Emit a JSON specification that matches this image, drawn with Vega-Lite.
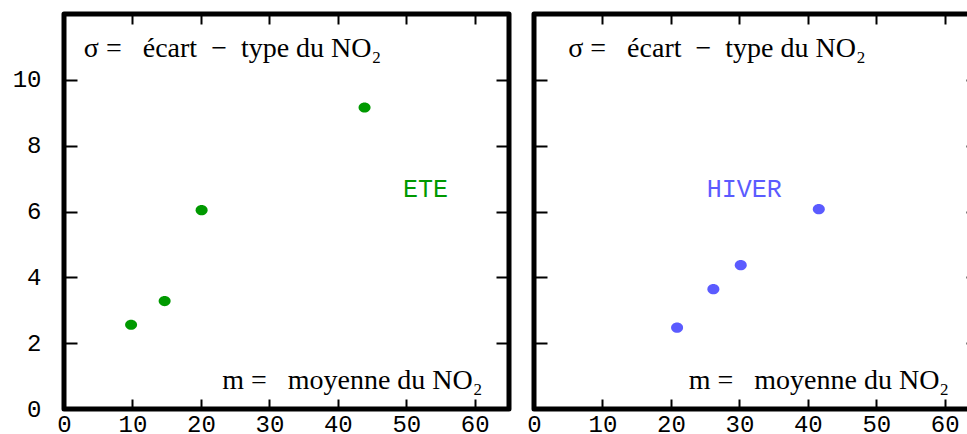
{
  "$schema": "https://vega.github.io/schema/vega-lite/v6.json",
  "autosize": {"type": "pad"},
  "padding": {"left": 9, "top": 10, "right": 0, "bottom": 0},
  "background": "white",
  "config": {
    "view": {"stroke": "black", "strokeWidth": 5, "strokeJoin": "round"},
    "axis": {
      "grid": false,
      "domain": false,
      "title": null,
      "tickColor": "black",
      "tickWidth": 2,
      "labelFont": "Liberation Mono",
      "labelFontSize": 24,
      "labelColor": "black",
      "labelFlush": false,
      "labelOverlap": false,
      "labelBound": false
    }
  },
  "datasets": {
    "mesures": [
      {"saison": "ETE", "m": 9.8, "sigma": 2.56},
      {"saison": "ETE", "m": 14.7, "sigma": 3.28},
      {"saison": "ETE", "m": 20.1, "sigma": 6.04},
      {"saison": "ETE", "m": 43.9, "sigma": 9.16},
      {"saison": "HIVER", "m": 20.9, "sigma": 2.47},
      {"saison": "HIVER", "m": 26.2, "sigma": 3.64},
      {"saison": "HIVER", "m": 30.2, "sigma": 4.37},
      {"saison": "HIVER", "m": 41.6, "sigma": 6.07}
    ],
    "notes": [
      {"saison": "ETE", "texte": "σ =\u00a0\u00a0\u00a0écart\u00a0\u00a0−\u00a0\u00a0type du NO₂", "m": 2.9, "sigma": 10.7},
      {"saison": "ETE", "texte": "m =\u00a0\u00a0\u00a0moyenne du NO₂", "m": 23.1, "sigma": 0.6},
      {"saison": "HIVER", "texte": "σ =\u00a0\u00a0\u00a0écart\u00a0\u00a0−\u00a0\u00a0type du NO₂", "m": 5.0, "sigma": 10.7},
      {"saison": "HIVER", "texte": "m =\u00a0\u00a0\u00a0moyenne du NO₂", "m": 22.6, "sigma": 0.6}
    ],
    "saisons": [
      {"saison": "ETE", "m": 52.8, "sigma": 6.69},
      {"saison": "HIVER", "m": 30.7, "sigma": 6.69}
    ]
  },
  "bounds": "flush",
  "spacing": 25,
  "hconcat": [
    {
      "width": 445,
      "height": 395,
      "layer": [
        {
          "data": {"name": "mesures"},
          "transform": [{"filter": "datum.saison === 'ETE'"}],
          "mark": {"type": "point", "filled": true, "opacity": 1, "size": 144, "shape": "M-1,0A1,0.85,0,1,1,1,0A1,0.85,0,1,1,-1,0Z", "color": "#009900"},
          "encoding": {
            "x": {"field": "m", "type": "quantitative", "scale": {"domain": [0, 65], "nice": false, "zero": false},
                  "axis": {"orient": "bottom", "values": [0, 10, 20, 30, 40, 50, 60], "tickSize": -10, "labelPadding": 13}},
            "y": {"field": "sigma", "type": "quantitative", "scale": {"domain": [0, 12], "nice": false, "zero": false},
                  "axis": {"orient": "left", "values": [0, 2, 4, 6, 8, 10], "tickSize": -13, "labelPadding": 36}}
          }
        },
        {
          "data": {"name": "notes"},
          "transform": [{"filter": "datum.saison === 'ETE'"}],
          "mark": {"type": "text", "font": "Liberation Serif", "fontSize": 28, "align": "left", "baseline": "alphabetic", "color": "black"},
          "encoding": {
            "x": {"field": "m", "type": "quantitative",
                  "axis": {"orient": "top", "values": [10, 20, 30, 40, 50, 60], "tickSize": -10, "labels": false}},
            "y": {"field": "sigma", "type": "quantitative",
                  "axis": {"orient": "right", "values": [2, 4, 6, 8, 10], "tickSize": -13, "labels": false}},
            "text": {"field": "texte"}
          }
        },
        {
          "data": {"name": "saisons"},
          "transform": [{"filter": "datum.saison === 'ETE'"}],
          "mark": {"type": "text", "font": "Liberation Mono", "fontSize": 25, "align": "center", "baseline": "middle", "color": "#009900"},
          "encoding": {
            "x": {"field": "m", "type": "quantitative", "axis": null},
            "y": {"field": "sigma", "type": "quantitative", "axis": null},
            "text": {"field": "saison"}
          }
        }
      ],
      "resolve": {"axis": {"x": "independent", "y": "independent"}}
    },
    {
      "width": 445,
      "height": 395,
      "layer": [
        {
          "data": {"name": "mesures"},
          "transform": [{"filter": "datum.saison === 'HIVER'"}],
          "mark": {"type": "point", "filled": true, "opacity": 1, "size": 144, "shape": "M-1,0A1,0.85,0,1,1,1,0A1,0.85,0,1,1,-1,0Z", "color": "#5b5bff"},
          "encoding": {
            "x": {"field": "m", "type": "quantitative", "scale": {"domain": [0, 65], "nice": false, "zero": false},
                  "axis": {"orient": "bottom", "values": [0, 10, 20, 30, 40, 50, 60], "tickSize": -10, "labelPadding": 13}},
            "y": {"field": "sigma", "type": "quantitative", "scale": {"domain": [0, 12], "nice": false, "zero": false},
                  "axis": {"orient": "left", "values": [2, 4, 6, 8, 10], "tickSize": -13, "labels": false}}
          }
        },
        {
          "data": {"name": "notes"},
          "transform": [{"filter": "datum.saison === 'HIVER'"}],
          "mark": {"type": "text", "font": "Liberation Serif", "fontSize": 28, "align": "left", "baseline": "alphabetic", "color": "black"},
          "encoding": {
            "x": {"field": "m", "type": "quantitative",
                  "axis": {"orient": "top", "values": [10, 20, 30, 40, 50, 60], "tickSize": -10, "labels": false}},
            "y": {"field": "sigma", "type": "quantitative",
                  "axis": {"orient": "right", "values": [2, 4, 6, 8, 10], "tickSize": -13, "labels": false}},
            "text": {"field": "texte"}
          }
        },
        {
          "data": {"name": "saisons"},
          "transform": [{"filter": "datum.saison === 'HIVER'"}],
          "mark": {"type": "text", "font": "Liberation Mono", "fontSize": 25, "align": "center", "baseline": "middle", "color": "#5b5bff"},
          "encoding": {
            "x": {"field": "m", "type": "quantitative", "axis": null},
            "y": {"field": "sigma", "type": "quantitative", "axis": null},
            "text": {"field": "saison"}
          }
        }
      ],
      "resolve": {"axis": {"x": "independent", "y": "independent"}}
    }
  ]
}
